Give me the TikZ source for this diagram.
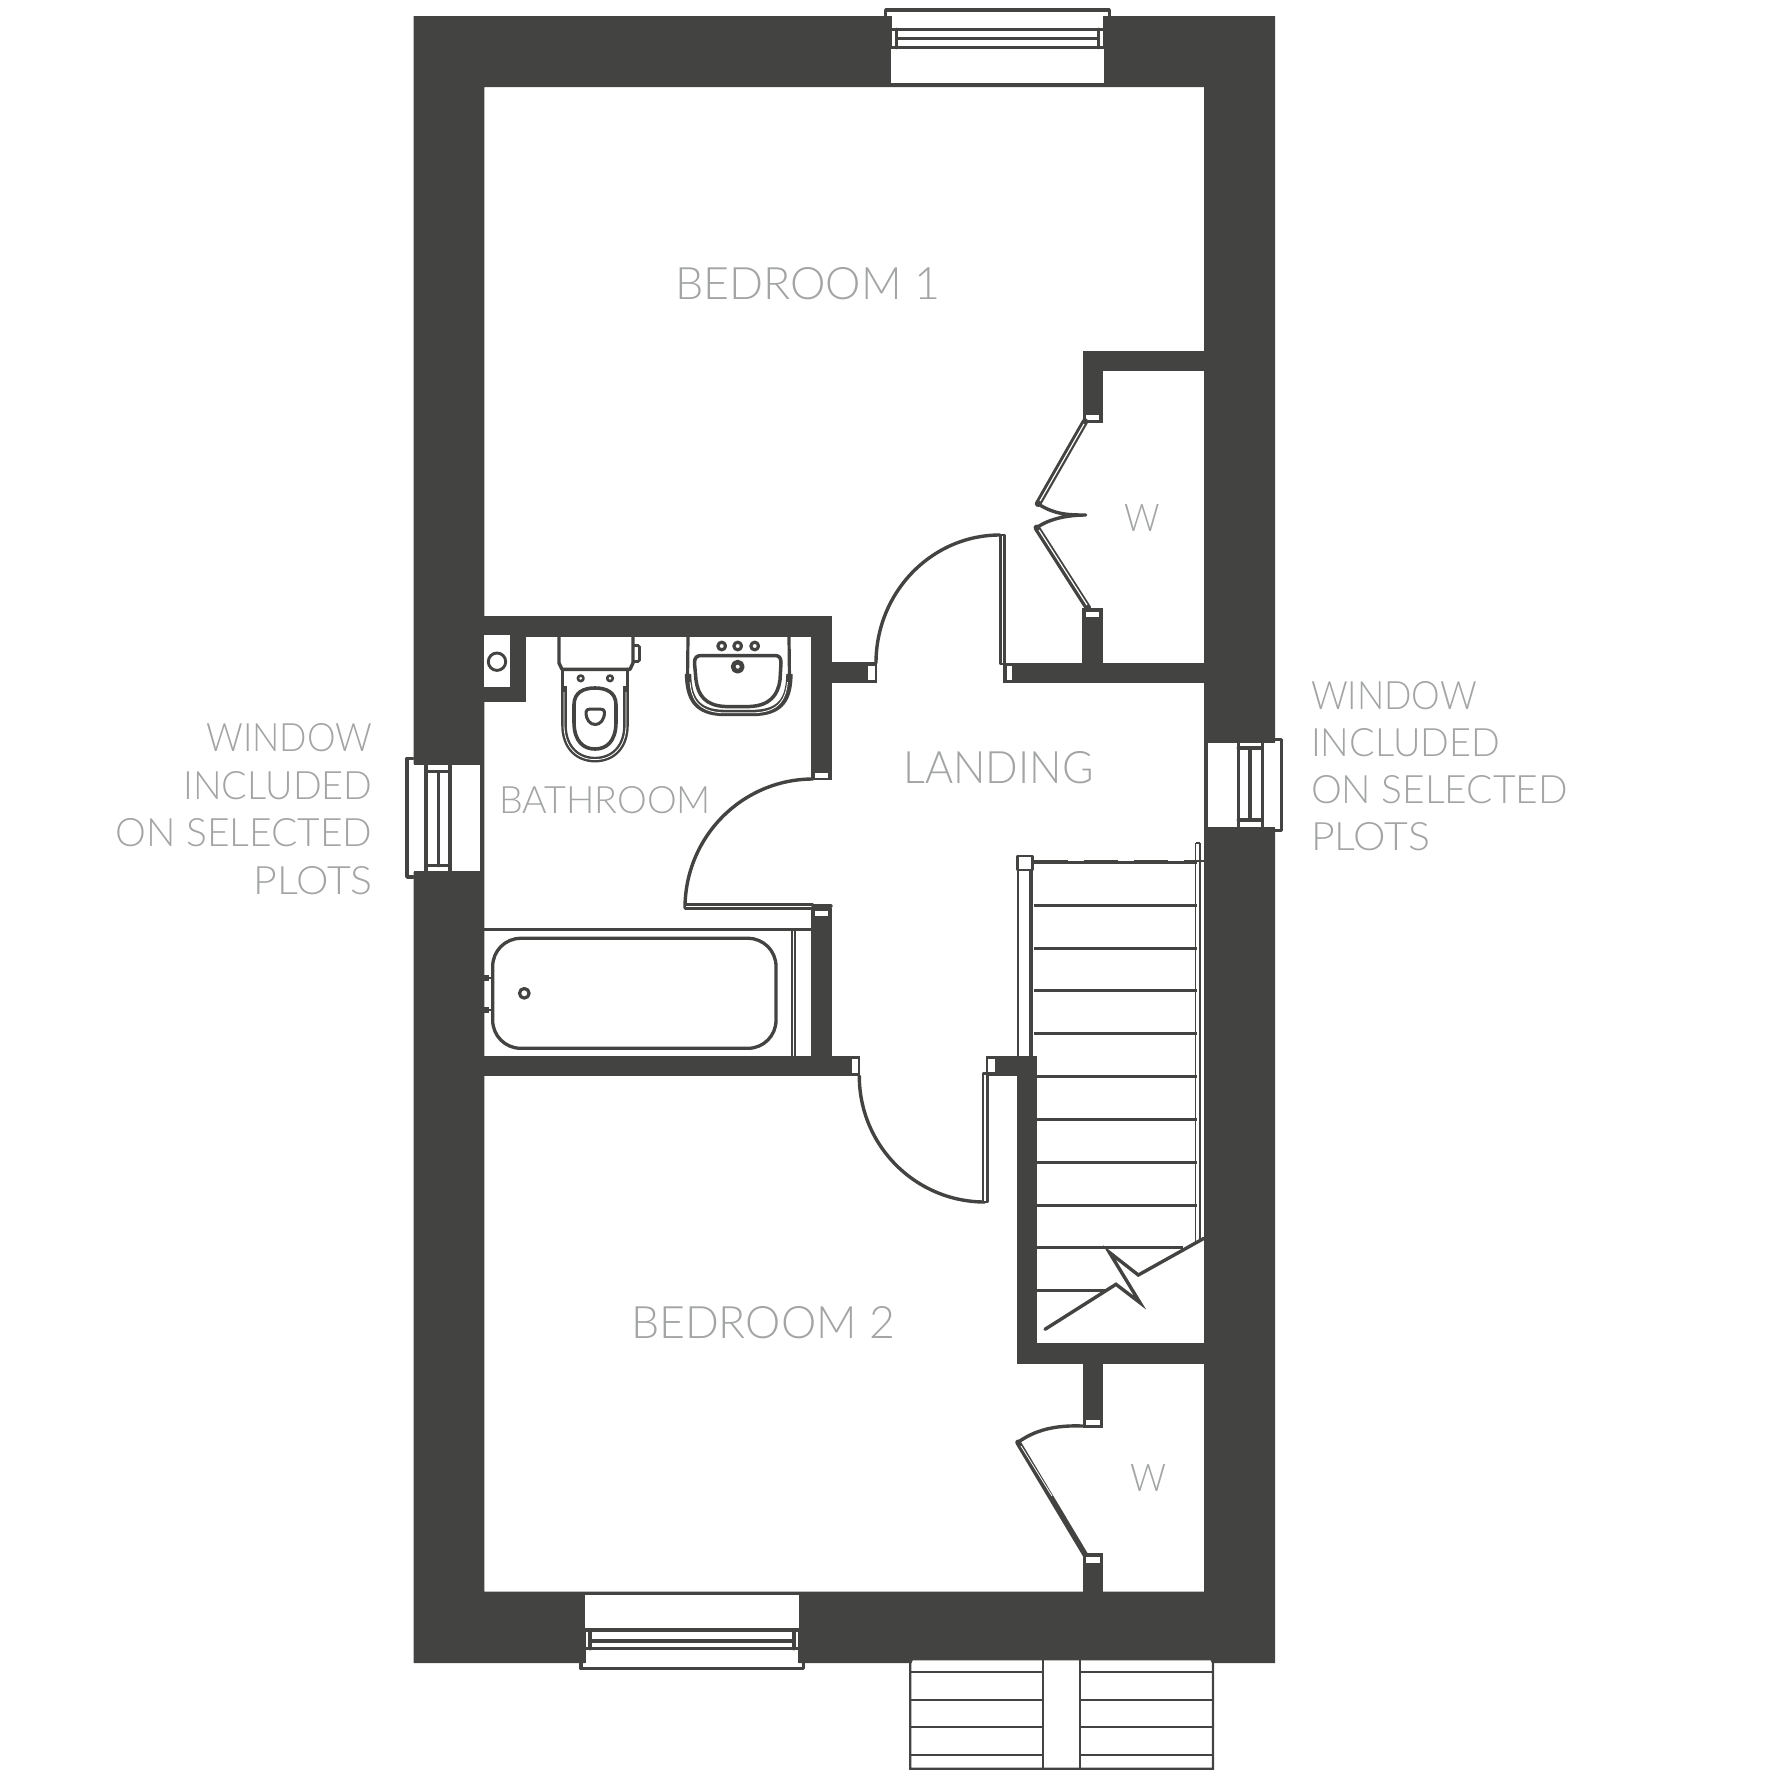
\documentclass[tikz,border=0pt]{standalone}
\usepackage{fontspec}
\usepackage{graphicx}
\newfontfamily\planfont{Lato Light}
\definecolor{wallc}{HTML}{434341}
\definecolor{labelc}{HTML}{A2A5A4}
\newcommand{\fittext}[3]{\resizebox{#1pt}{#2pt}{\planfont\fontsize{40pt}{44pt}\selectfont #3}}
\tikzset{
  wallfill/.style={fill=wallc,draw=none},
  gap/.style={fill=white,draw=none},
  ln/.style={draw=wallc,line width=3.4pt,line cap=round,line join=round},
  thinln/.style={draw=wallc,line width=2pt},
  tread/.style={draw=wallc,line width=3pt},
  jamb/.style={fill=white,draw=none},
  leaf/.style={draw=wallc,line width=2.8pt,fill=white,line join=round},
  lbl/.style={text=labelc,inner sep=0pt,outer sep=0pt,anchor=base west},
  lblr/.style={text=labelc,inner sep=0pt,outer sep=0pt,anchor=base east},
}
\begin{document}
\begin{tikzpicture}[x=1pt,y=-1pt]
\useasboundingbox[fill=white] (0,0) rectangle (1778,1778);
% outer walls
\path[wallfill,even odd rule] (413.5,16) rectangle (1275,1663) (484.3,87) rectangle (1204,1591.7);
% interior walls
\path[wallfill] (484,616) rectangle (831.7,637.3);
\path[wallfill] (811,616) rectangle (831.7,780);
\path[wallfill] (831,662.3) rectangle (877,683.3);
\path[wallfill] (484,637) rectangle (526,701.7);
\path[gap] (484.3,635) rectangle (510.3,686.7);
\path[wallfill] (811,908) rectangle (831.7,1060);
\path[wallfill] (484,1055.7) rectangle (860,1076);
\path[wallfill] (986,1055.7) rectangle (1036.7,1076);
\path[wallfill] (1016.7,1055.7) rectangle (1036.7,1364);
\path[wallfill] (1016.7,1343.3) rectangle (1204,1364);
\path[wallfill] (1082.5,1364) rectangle (1103.2,1428.3);
\path[wallfill] (1082.5,1553.3) rectangle (1103.2,1592);
\path[wallfill] (1003.3,662.7) rectangle (1204,683);
\path[wallfill] (1082.3,608.3) rectangle (1103.3,663);
\path[wallfill] (1082.8,350.6) rectangle (1204,370.7);
\path[wallfill] (1082.8,350.6) rectangle (1103.3,422.6);
% jambs
\path[jamb] (814.5,773) rectangle (827.7,778);
\path[jamb] (868.3,666) rectangle (875,680);
\path[jamb] (814.5,910.5) rectangle (827.7,916);
\path[jamb] (851.7,1059) rectangle (857.5,1073);
\path[jamb] (988.3,1059) rectangle (995,1072);
\path[jamb] (1006.7,666) rectangle (1012,680);
\path[jamb] (1086,611.7) rectangle (1099,617.3);
\path[jamb] (1086,415) rectangle (1099,420.3);
\path[jamb] (1086,1420) rectangle (1099.5,1425);
\path[jamb] (1086,1557) rectangle (1099.5,1562.7);
% boiler
\draw[ln,line width=2.9pt] (497,661.7) circle[radius=8.7pt];
% door arcs and leaves
\draw[ln] (813,779) .. controls (742.3,779) and (685,836.8) .. (685,908);
\draw[leaf] (685,904.6) rectangle (813,908.7);
\draw[ln] (813,906) -- (831,906);
\draw[ln] (876,663) .. controls (876,592.3) and (931.5,535) .. (1000,535);
\draw[leaf] (1000.3,535) rectangle (1004.8,664);
\draw[ln] (859.3,1076) .. controls (859.3,1145.6) and (915.6,1202) .. (985,1202);
\draw[leaf] (983,1073.5) rectangle (987.8,1202);
% wardrobe doors top
\draw[wallc,line width=6.4pt,line cap=round] (1085,421.5) -- (1038,503.8);
\draw[white,line width=1.2pt] (1084,424) -- (1040,501);
\draw[wallc,line width=6.4pt,line cap=round] (1036.7,527.7) -- (1088,608);
\draw[white,line width=1.2pt] (1039,530) -- (1087,605);
\draw[ln] (1038,503.8) .. controls (1055,515) and (1070,515) .. (1085.7,515) .. controls (1070,515) and (1050,518) .. (1036.7,527.7);
% wardrobe door bottom
\draw[ln] (1082.5,1426) .. controls (1055,1425) and (1035,1430) .. (1018,1442.3);
\draw[wallc,line width=5.6pt,line cap=round] (1018,1442.3) -- (1085,1554.3);
\draw[white,line width=.8pt] (1021,1446) -- (1052,1496);
% top window
\path[gap] (891,14) rectangle (1104,84);
\draw[ln] (885.7,16) -- (885.7,10) -- (1109.3,10) -- (1109.3,16);
\draw[thinln] (891,16) -- (891,47.7) (1104,16) -- (1104,47.7);
\draw[ln] (891,29.3) -- (1104,29.3) (896.7,38.3) -- (1098.3,38.3) (891,47.7) -- (1104,47.7);
\draw[ln] (896.7,29.3) -- (896.7,47.7) (1098.3,29.3) -- (1098.3,47.7);
\draw[ln] (889,85) -- (1106,85);
% bottom window
\path[gap] (585,1594) rectangle (799,1668);
\draw[ln] (584,1593.6) -- (800,1593.6);
\draw[ln] (585,1630) -- (799,1630) (590,1641) -- (794,1641) (585,1648.7) -- (799,1648.7);
\draw[ln] (590,1630) -- (590,1648.7) (794,1630) -- (794,1648.7);
\draw[thinln] (585,1630) -- (585,1663) (799,1630) -- (799,1663);
\draw[ln] (581,1662) -- (581,1668.7) -- (803.6,1668.7) -- (803.6,1662);
% left window
\path[gap] (410,764) rectangle (480,872);
\draw[ln] (413,758.5) -- (407,758.5) -- (407,877) -- (413,877);
\draw[ln] (481.7,761) -- (481.7,875);
\draw[thinln] (413.5,764) -- (481,764) (413.5,872) -- (481,872);
\draw[ln] (426,764) -- (426,872) (438.3,771.7) -- (438.3,865.7) (450,764) -- (450,872);
\draw[ln] (426,771.7) -- (450,771.7) (426,865.7) -- (450,865.7);
% right window
\path[gap] (1206,742) rectangle (1278,828);
\draw[ln] (1275,739.3) -- (1281.7,739.3) -- (1281.7,830.5) -- (1275,830.5);
\draw[ln] (1206.3,739.5) -- (1206.3,830);
\draw[thinln] (1206,742) -- (1275,742) (1206,827.5) -- (1275,827.5);
\draw[ln] (1238.3,742) -- (1238.3,827.5) (1250,748) -- (1250,820) (1262.3,742) -- (1262.3,827.5);
\draw[ln] (1238.3,748) -- (1262.3,748) (1238.3,820) -- (1262.3,820);
% bathroom fittings: bath
\draw[thinln,line width=2.8pt] (484.3,929.3) -- (811,929.3);
\draw[thinln,line width=1.8pt] (791.7,929.3) -- (791.7,1055.7) (795,929.3) -- (795,1055.7);
\draw[ln,line width=3.3pt] (492.7,938.3) [rounded corners=28pt] rectangle (776,1048.3);
\draw[ln,line width=3.2pt] (524.3,993.3) circle[radius=4.8pt];
\path[wallfill] (484,974.7) rectangle (489,980.7);
\path[wallfill] (484,1007) rectangle (489,1013);
\draw[thinln] (488,977.7) -- (492.7,977.7) (488,1010) -- (492.7,1010);
% toilet
\draw[ln] (559,637.3) -- (559,663) -- (562,669.3) -- (630,669.3) -- (633,663) -- (633,637.3);
\draw[thinln,line width=2.6pt,rounded corners=1.5pt] (633,645.5) -- (639.5,645.5) -- (639.5,661.5) -- (633,661.5);
\draw[ln] (562.7,669.3) -- (562.7,692) (627.3,669.3) -- (627.3,692);
\draw[wallc,line width=5.6pt] (564,686) -- (564,725) .. controls (564,748) and (578,759.6) .. (595,759.6) .. controls (612,759.6) and (626,748) .. (626,725) -- (626,686);
\draw[white,line width=.8pt] (564,692) -- (564,725) .. controls (564,748) and (578,759.6) .. (595,759.6) .. controls (612,759.6) and (626,748) .. (626,725) -- (626,692);
\draw[ln,line width=3.6pt] (574,705) .. controls (574,692) and (584,688) .. (595,688) .. controls (606,688) and (616,692) .. (616,705) -- (616,722) .. controls (616,742) and (606,749) .. (595,749) .. controls (584,749) and (574,742) .. (574,722) -- cycle;
\draw[ln,line width=3pt] (586,712) .. controls (586,710) and (588,709) .. (590,709) -- (600,709) .. controls (603,709) and (604.5,710) .. (604.5,712) .. controls (604.5,720) and (600,724.5) .. (595.3,724.5) .. controls (590,724.5) and (586,720) .. (586,712) -- cycle;
\draw[ln,line width=2.6pt] (580.7,678.3) circle[radius=2.8pt] (610,678.3) circle[radius=2.8pt];
% basin
\draw[ln,line width=3.2pt] (688,637) -- (687.5,680) (789,637) -- (789.5,680);
\draw[wallc,line width=6.4pt] (688,674) .. controls (688.5,697) and (695,713) .. (725,713) -- (752,713) .. controls (783,713) and (789,697) .. (789.5,674);
\draw[white,line width=.8pt] (690,682) .. controls (691,697) and (697,712.8) .. (725,712.8) -- (752,712.8) .. controls (781,712.8) and (786,697) .. (787.5,682);
\draw[ln,line width=3.5pt] (694.5,663) .. controls (694.5,657) and (697,655.5) .. (702,655.5) -- (774,655.5) .. controls (779,655.5) and (781,657) .. (781,663) -- (780,680) .. controls (778,695) and (770,705.5) .. (750,706.5) -- (725,706.5) .. controls (705,705.5) and (698,695) .. (696,680) -- cycle;
\draw[ln,line width=3.2pt] (721.7,646) circle[radius=3.8pt] (737.7,646) circle[radius=3.8pt] (754.7,646) circle[radius=3.8pt];
\draw[ln,line width=4.6pt] (737.7,666.7) circle[radius=4.6pt];
% stairs
\draw[thinln] (1018.3,870) -- (1018.3,1056);
\draw[ln] (1031,870) -- (1031,1056);
\draw[wallc,line width=2pt,dash pattern=on 34pt off 16pt] (1033.5,860.5) -- (1204,860.5);
\draw[leaf] (1017.5,856) rectangle (1032.2,870);
\foreach \ty in {862.8,905.4,948,990.8,1033.6}{\draw[tread] (1034,\ty) -- (1196.7,\ty);}
\foreach \ty in {1076.6,1119.4,1162.2,1205}{\draw[tread] (1036.7,\ty) -- (1196.7,\ty);}
\draw[tread] (1036.7,1247.7) -- (1183,1247.7);
\draw[tread] (1036.7,1290.6) -- (1107,1290.6);
\draw[thinln,line width=1.7pt] (1195.6,843) -- (1195.6,1242) (1200.3,843) -- (1200.3,1240) (1195.6,843) -- (1200.3,843);
\draw[ln,line width=3.4pt,line cap=round,line join=miter] (1045,1329.3) -- (1116,1284.3) -- (1140,1302.7) -- (1109.3,1252.3) -- (1138.3,1275) -- (1204,1238.3);
% steps
\draw[fill=white,draw=wallc,line width=2.2pt] (912,1659.3) -- (1211.5,1659.3) -- (1213,1663) -- (1213,1768.7) -- (910.3,1768.7) -- (910.3,1663) -- cycle;
\path[wallfill] (1204,1655) rectangle (1275,1659);
\draw[thinln,line width=2.2pt] (1043.3,1659.3) -- (1043.3,1768.7) (1080,1659.3) -- (1080,1768.7);
\foreach \ty in {1672.3,1699.7,1727.3,1755}{\draw[thinln,line width=2.2pt] (910.3,\ty) -- (1043.3,\ty) (1080,\ty) -- (1213,\ty);}
% labels
\node[lbl] (bed1) at (675,299) {\fittext{265}{32}{BEDROOM 1}};
\node[lbl] (bed2) at (631,1338.3) {\fittext{264}{32}{BEDROOM 2}};
\node[lbl] (bath) at (499,813.3) {\fittext{212}{27}{BATHROOM}};
\node[lbl] (land) at (903.5,783.3) {\fittext{190}{32}{LANDING}};
\node[lbl] (w1) at (1124.5,531.7) {\fittext{35.5}{27}{W}};
\node[lbl] (w2) at (1130.5,1491.7) {\fittext{36}{27}{W}};
\node[lblr] (l1) at (372.5,751.7) {\fittext{166}{28}{WINDOW}};
\node[lblr] (l2) at (372.5,799) {\fittext{189}{28}{INCLUDED}};
\node[lblr] (l3) at (372.5,846.7) {\fittext{257}{28}{ON SELECTED}};
\node[lblr] (l4) at (372.5,894) {\fittext{119}{28}{PLOTS}};
\node[lbl] (r1) at (1311,709.3) {\fittext{166}{28}{WINDOW}};
\node[lbl] (r2) at (1311,756.7) {\fittext{189}{28}{INCLUDED}};
\node[lbl] (r3) at (1311,803.3) {\fittext{257}{28}{ON SELECTED}};
\node[lbl] (r4) at (1311,850) {\fittext{119}{28}{PLOTS}};
\end{tikzpicture}
\end{document}
